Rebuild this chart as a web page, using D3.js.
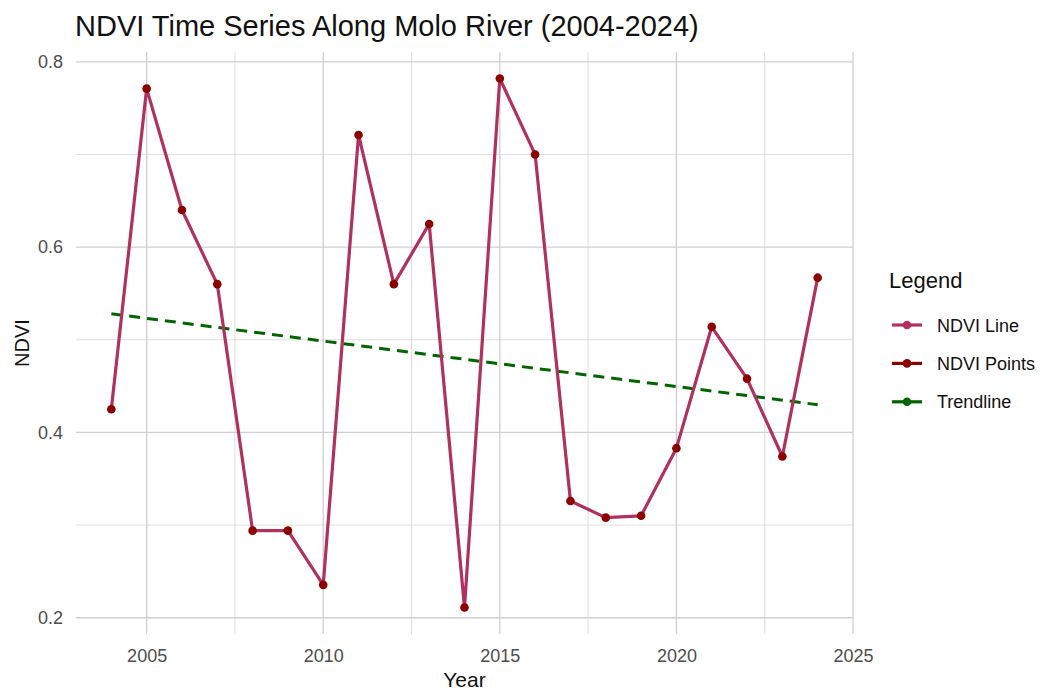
<!DOCTYPE html>
<html><head><meta charset="utf-8">
<script src="https://cdn.jsdelivr.net/npm/d3@7"></script>
<style>body{margin:0;background:#fff}svg{display:block;font-family:"Liberation Sans",Arial,sans-serif}</style>
</head><body><svg id="c" width="1044" height="690"></svg>
<script>
const years = [2004,2005,2006,2007,2008,2009,2010,2011,2012,2013,2014,2015,2016,2017,2018,2019,2020,2021,2022,2023,2024];
const ndvi = [0.425,0.771,0.640,0.560,0.294,0.294,0.2355,0.721,0.560,0.625,0.211,0.782,0.700,0.326,0.308,0.310,0.383,0.514,0.458,0.374,0.567];
const xTicks = [2005,2010,2015,2020,2025];
const yTicks = [0.2,0.4,0.6,0.8];
const xMinor = [2007.5,2012.5,2017.5,2022.5];
const yMinor = [0.3,0.5,0.7];
const legendLabels = ["NDVI Line","NDVI Points","Trendline"];
const colors = {line:"#B03060", points:"#8B0000", trend:"#006400"};

const svg = d3.select("#c");
const L=76, R=853, T=52, B=634;
const x = d3.scaleLinear().domain([2003,2025]).range([L,R]);
const ymin = d3.min(ndvi), ymax = d3.max(ndvi), pad=(ymax-ymin)*0.05;
const y = d3.scaleLinear().domain([ymin-pad, ymax+pad]).range([B,T]);

const data = years.map((yr,i)=>({yr, v:ndvi[i]}));
// least squares fit
const mx=d3.mean(years), my=d3.mean(ndvi);
const slope=d3.sum(years.map((yr,i)=>(yr-mx)*(ndvi[i]-my)))/d3.sum(years.map(yr=>(yr-mx)**2));
const trend=[years[0],years[years.length-1]].map(yr=>({yr, v:my+slope*(yr-mx)}));

const g=svg.append("g");
g.selectAll(".mx").data(xMinor).join("line").attr("x1",d=>x(d)).attr("x2",d=>x(d)).attr("y1",T).attr("y2",B).attr("stroke","#d6d6d6").attr("stroke-width",0.8);
g.selectAll(".my").data(yMinor).join("line").attr("y1",d=>y(d)).attr("y2",d=>y(d)).attr("x1",L).attr("x2",R).attr("stroke","#d6d6d6").attr("stroke-width",0.8);
g.selectAll(".gx").data(xTicks).join("line").attr("x1",d=>x(d)).attr("x2",d=>x(d)).attr("y1",T).attr("y2",B).attr("stroke","#cfcfcf").attr("stroke-width",1.3);
g.selectAll(".gy").data(yTicks).join("line").attr("y1",d=>y(d)).attr("y2",d=>y(d)).attr("x1",L).attr("x2",R).attr("stroke","#cfcfcf").attr("stroke-width",1.3);

const xa=svg.append("g").attr("transform",`translate(0,${B})`).call(d3.axisBottom(x).tickValues(xTicks).tickFormat(d3.format("d")).tickSize(0).tickPadding(15));
const ya=svg.append("g").attr("transform",`translate(${L},0)`).call(d3.axisLeft(y).tickValues(yTicks).tickFormat(d3.format(".1f")).tickSize(0).tickPadding(13));
[xa,ya].forEach(a=>{a.select(".domain").remove(); a.selectAll("text").attr("fill","#4d4d4d").attr("font-size",18).attr("font-family","Liberation Sans, Arial, sans-serif");});

svg.append("path").datum(trend).attr("d",d3.line().x(d=>x(d.yr)).y(d=>y(d.v)))
  .attr("fill","none").attr("stroke",colors.trend).attr("stroke-width",3).attr("stroke-dasharray","11,7");
svg.append("path").datum(data).attr("d",d3.line().x(d=>x(d.yr)).y(d=>y(d.v)))
  .attr("fill","none").attr("stroke",colors.line).attr("stroke-width",3.2).attr("stroke-linejoin","round");
svg.selectAll(".pt").data(data).join("circle").attr("cx",d=>x(d.yr)).attr("cy",d=>y(d.v)).attr("r",4.3).attr("fill",colors.points);

svg.append("text").attr("x",75).attr("y",36).attr("font-size",29).attr("fill","#111").text("NDVI Time Series Along Molo River (2004-2024)");
svg.append("text").attr("x",(L+R)/2).attr("y",687).attr("text-anchor","middle").attr("font-size",21).attr("fill","#111").text("Year");
svg.append("text").attr("transform",`translate(29,${(T+B)/2}) rotate(-90)`).attr("text-anchor","middle").attr("font-size",20).attr("fill","#111").text("NDVI");

svg.append("text").attr("x",889).attr("y",288).attr("font-size",22).attr("fill","#111").text("Legend");
const lc=[colors.line,colors.points,colors.trend];
const lg=svg.selectAll(".lg").data(legendLabels).join("g").attr("transform",(d,i)=>`translate(0,${325+i*38.4})`);
lg.append("line").attr("x1",892).attr("x2",922).attr("y1",0).attr("y2",0).attr("stroke",(d,i)=>lc[i]).attr("stroke-width",3.2);
lg.append("circle").attr("cx",907).attr("cy",0).attr("r",4.3).attr("fill",(d,i)=>lc[i]);
lg.append("text").attr("x",937).attr("y",6.5).attr("font-size",18).attr("fill","#111").text(d=>d);
</script></body></html>
